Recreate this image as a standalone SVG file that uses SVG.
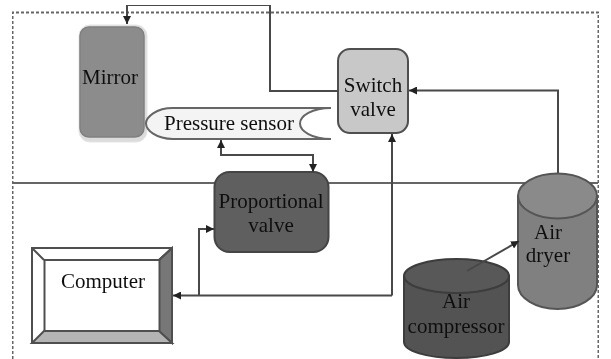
<svg xmlns="http://www.w3.org/2000/svg" width="611" height="359" viewBox="0 0 611 359">
<style>
text{font-family:"Liberation Serif","Times New Roman",serif;font-size:21px;fill:#111;text-anchor:middle}
.s{stroke:#505050;stroke-width:2}
.c{fill:none;stroke:#484848;stroke-width:2}
.d{fill:none;stroke:#666;stroke-width:2;stroke-dasharray:3 2}
</style>
<defs>
<marker id="a" markerUnits="userSpaceOnUse" markerWidth="9" markerHeight="8" refX="8" refY="4" orient="auto-start-reverse"><path d="M0 0L8 4L0 8Z" fill="#222"/></marker>
<filter id="b" x="0" y="0" width="100%" height="100%"><feGaussianBlur stdDeviation="0.45"/></filter>
</defs>
<rect width="611" height="359" fill="#fff"/>
<g filter="url(#b)">
<g id="frame">
<path class="d" d="M12.500 359V12.500H598.500V359"/>
<path d="M12 183H598" fill="none" stroke="#666" stroke-width="1.800"/>
</g>
<g id="mirror">
<rect x="79" y="25" width="68" height="117" rx="11" fill="#dcdcdc" stroke="#e4e4e4"/>
<rect x="80" y="27" width="64" height="110" rx="9" fill="#8c8c8c" stroke="#808080" stroke-width="1.500"/>
<text x="110" y="84">Mirror</text>
</g>
<g id="pressure-sensor">
<path d="M331 108H173C156 108 146 117 146 123.500C146 130 156 139 173 139H331C312 139 300 131 300 123.500C300 116 312 108 331 108Z" fill="#f4f4f4" stroke="none"/>
<path d="M331 108H173C156 108 146 117 146 123.500C146 130 156 139 173 139H331M331 108C312 108 300 116 300 123.500C300 131 312 139 331 139" fill="none" stroke="#666" stroke-width="2"/>
<text x="229" y="130">Pressure sensor</text>
</g>
<g id="switch-valve">
<rect x="338" y="49" width="70" height="84" rx="12" fill="#c8c8c8" class="s"/>
<text x="373" y="92">Switch</text>
<text x="373" y="116">valve</text>
</g>
<g id="proportional-valve">
<rect x="214.500" y="172" width="114" height="80" rx="15" fill="#5e5e5e" stroke="#444" stroke-width="2"/>
<text x="271" y="208">Proportional</text>
<text x="271" y="232">valve</text>
</g>
<g id="computer">
<rect x="32" y="248" width="140" height="95" fill="#fff" class="s"/>
<path d="M172 248L159 260V331L172 343Z" fill="#777" class="s"/>
<path d="M32 343L44 331H159L172 343Z" fill="#b4b4b4" class="s"/>
<path d="M32 248L44 260M172 248L159 260" class="s"/>
<rect x="44.500" y="260" width="115" height="71" fill="#fff" class="s"/>
<text x="103" y="288">Computer</text>
</g>
<g id="air-dryer">
<path d="M518 196V285C518 298 536 309 557.500 309C579 309 597 298 597 285V196Z" fill="#808080" stroke="#555" stroke-width="2"/>
<ellipse cx="557.500" cy="196" rx="39.500" ry="22.500" fill="#8a8a8a" stroke="#555" stroke-width="2"/>
<text x="548" y="239">Air</text>
<text x="548" y="262">dryer</text>
</g>
<g id="air-compressor">
<path d="M404 276V342C404 351 427 358 456.500 358C486 358 509 351 509 342V276Z" fill="#525252" stroke="#3c3c3c" stroke-width="2"/>
<ellipse cx="456.500" cy="276" rx="52.500" ry="17" fill="#585858" stroke="#3c3c3c" stroke-width="2"/>
<text x="456" y="308">Air</text>
<text x="456" y="333">compressor</text>
</g>
<g id="connectors">
<path class="c" d="M338 91H270V5H127V24" marker-end="url(#a)"/>
<path class="c" d="M558 173V90.500H409" marker-end="url(#a)"/>
<path class="c" d="M392 295.500V134" marker-end="url(#a)"/>
<path class="c" d="M392 295.500H173" marker-end="url(#a)"/>
<path class="c" d="M199 295.500V229H214" marker-end="url(#a)"/>
<path class="c" d="M221 140V155H313V172" marker-start="url(#a)" marker-end="url(#a)"/>
<path class="c" d="M467 271L519 241" marker-end="url(#a)"/>
</g>
</g>
</svg>
